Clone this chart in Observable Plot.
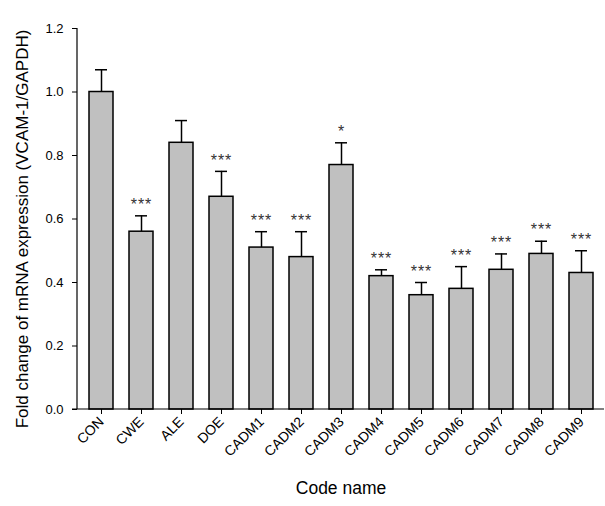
<!DOCTYPE html>
<html>
<head>
<meta charset="utf-8">
<script src="https://cdn.jsdelivr.net/npm/d3@7"></script>
<script src="https://cdn.jsdelivr.net/npm/@observablehq/plot@0.6"></script>
<style>
  html, body { margin: 0; padding: 0; background: #fff; }
  svg { display: block; }
</style>
</head>
<body>
<div id="chart"></div>
<script>
const categories = ["CON", "CWE", "ALE", "DOE", "CADM1", "CADM2", "CADM3", "CADM4", "CADM5", "CADM6", "CADM7", "CADM8", "CADM9"];
const means = [1.00, 0.56, 0.84, 0.67, 0.51, 0.48, 0.77, 0.42, 0.36, 0.38, 0.44, 0.49, 0.43];
const errors = [0.07, 0.05, 0.07, 0.08, 0.05, 0.08, 0.07, 0.02, 0.04, 0.07, 0.05, 0.04, 0.07];
const significance = ["", "***", "", "***", "***", "***", "*", "***", "***", "***", "***", "***", "***"];
const yTicks = [0, 0.2, 0.4, 0.6, 0.8, 1.0, 1.2];
const yLabel = "Fold change of mRNA expression (VCAM-1/GAPDH)";
const xLabel = "Code name";

const data = categories.map((c, i) => ({
  name: c, value: means[i], upper: means[i] + errors[i], sig: significance[i]
}));

const font = "Arial, 'Liberation Sans', sans-serif";

const axisLines = (index, scales, values, dims) => {
  const g = d3.create("svg:g").attr("stroke", "black").attr("stroke-width", 1.2);
  const y0 = scales.y(0), y1 = scales.y(1.2);
  g.append("line").attr("x1", dims.marginLeft).attr("x2", dims.marginLeft)
    .attr("y1", y1).attr("y2", y0);
  g.append("line").attr("x1", dims.marginLeft - 5).attr("x2", dims.width - dims.marginRight)
    .attr("y1", y0).attr("y2", y0);
  return g.node();
};

const chart = Plot.plot({
  width: 605,
  height: 506,
  marginLeft: 77,
  marginRight: 1,
  marginTop: 28,
  marginBottom: 97,
  style: { fontFamily: font, fontSize: "13px", background: "white" },
  x: { type: "band", domain: categories, paddingInner: 0.4, paddingOuter: 0.22, label: null },
  y: { domain: [0, 1.2], label: null },
  marks: [
    Plot.barY(data, { x: "name", y: "value", fill: "#c0c0c0", stroke: "black", strokeWidth: 1.5 }),
    Plot.ruleX(data, { x: "name", y1: "value", y2: "upper", stroke: "black", strokeWidth: 1.5 }),
    Plot.tickY(data, { x: "name", y: "upper", stroke: "black", strokeWidth: 1.5, insetLeft: 6, insetRight: 6 }),
    Plot.text(data, { x: "name", y: "upper", text: "sig", dy: -11, fontSize: 16, fill: "#333" }),
    Plot.axisY({ ticks: yTicks, tickFormat: d3.format(".1f"), tickSize: 5, tickPadding: 9, fontSize: 13, label: null, fill: "black" }),
    Plot.axisX({ tickSize: 5, tickPadding: 5, tickRotate: -45, fontSize: 14, label: null, fill: "black" }),
    axisLines,
    Plot.text([yLabel], { text: d => d, frameAnchor: "left", textAnchor: "middle", dx: -55, dy: 10, rotate: -90, fontSize: 17, fill: "black" }),
    Plot.text([xLabel], { text: d => d, frameAnchor: "bottom", textAnchor: "middle", dy: 84, fontSize: 17.5, fill: "black" })
  ]
});

d3.select(chart).selectAll('g[aria-label="x-axis tick label"]').attr("font-size", 14);
d3.select(chart).selectAll('g[aria-label="y-axis tick label"]').attr("font-size", 13);
d3.select(chart).selectAll('g[aria-label="text"]').filter((d, i) => i === 0).attr("letter-spacing", 1);

document.getElementById("chart").appendChild(chart);
</script>
</body>
</html>
